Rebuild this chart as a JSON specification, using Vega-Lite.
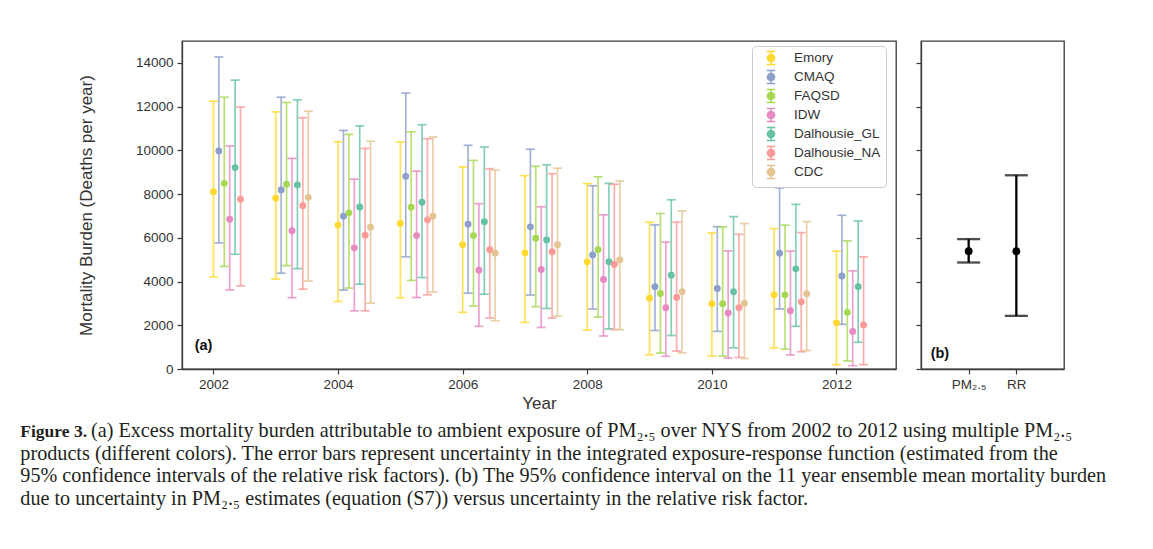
{
  "$schema": "https://vega.github.io/schema/vega-lite/v6.json",
  "background": "white",
  "padding": {"left": 20, "top": 40, "right": 0, "bottom": 0},
  "spacing": 17,
  "title": {
    "text": "Figure 3.",
    "subtitle": [
      "\u200b\u00a0\u00a0\u00a0\u00a0\u00a0\u00a0\u00a0\u00a0\u00a0\u00a0\u00a0\u00a0\u00a0\u00a0(a) Excess mortality burden attributable to ambient exposure of PM₂.₅ over NYS from 2002 to 2012 using multiple PM₂.₅",
      "products (different colors). The error bars represent uncertainty in the integrated exposure-response function (estimated from the",
      "95% confidence intervals of the relative risk factors). (b) The 95% confidence interval on the 11 year ensemble mean mortality burden",
      "due to uncertainty in PM₂.₅ estimates (equation (S7)) versus uncertainty in the relative risk factor."
    ],
    "orient": "bottom",
    "anchor": "start",
    "frame": "bounds",
    "dx": -57,
    "offset": 11,
    "font": "Liberation Serif",
    "fontSize": 17.5,
    "fontWeight": "bold",
    "color": "#231f20",
    "lineHeight": 17.5,
    "subtitleFont": "Liberation Serif",
    "subtitleFontSize": 20.2,
    "subtitleFontWeight": "normal",
    "subtitleColor": "#231f20",
    "subtitleLineHeight": 22.6,
    "subtitlePadding": -19.6
  },
  "config": {
    "view": {"stroke": "#3a3a3a", "strokeWidth": 1.3},
    "axis": {
      "grid": false,
      "domainColor": "#3a3a3a",
      "domainWidth": 1.3,
      "tickColor": "#3a3a3a",
      "tickSize": 5,
      "tickWidth": 1.2,
      "labelFont": "Liberation Sans",
      "labelFontSize": 13.5,
      "labelColor": "#333333",
      "titleFont": "Liberation Sans",
      "titleFontSize": 17,
      "titleFontWeight": "normal",
      "titleColor": "#333333"
    }
  },
  "datasets": {
    "burden": [
      {"year": 2002, "product": "Emory", "lo": 4210, "mid": 8110, "hi": 12250},
      {"year": 2002, "product": "CMAQ", "lo": 5770, "mid": 9970, "hi": 14270},
      {"year": 2002, "product": "FAQSD", "lo": 4690, "mid": 8490, "hi": 12430},
      {"year": 2002, "product": "IDW", "lo": 3620, "mid": 6850, "hi": 10200},
      {"year": 2002, "product": "Dalhousie_GL", "lo": 5250, "mid": 9210, "hi": 13210},
      {"year": 2002, "product": "Dalhousie_NA", "lo": 3800, "mid": 7760, "hi": 11980},
      {"year": 2003, "product": "Emory", "lo": 4110, "mid": 7810, "hi": 11760},
      {"year": 2003, "product": "CMAQ", "lo": 4380, "mid": 8190, "hi": 12430},
      {"year": 2003, "product": "FAQSD", "lo": 4730, "mid": 8450, "hi": 12190},
      {"year": 2003, "product": "IDW", "lo": 3260, "mid": 6320, "hi": 9630},
      {"year": 2003, "product": "Dalhousie_GL", "lo": 4590, "mid": 8420, "hi": 12310},
      {"year": 2003, "product": "Dalhousie_NA", "lo": 3650, "mid": 7470, "hi": 11490},
      {"year": 2003, "product": "CDC", "lo": 4020, "mid": 7850, "hi": 11790},
      {"year": 2004, "product": "Emory", "lo": 3090, "mid": 6580, "hi": 10390},
      {"year": 2004, "product": "CMAQ", "lo": 3610, "mid": 6990, "hi": 10910},
      {"year": 2004, "product": "FAQSD", "lo": 3700, "mid": 7140, "hi": 10730},
      {"year": 2004, "product": "IDW", "lo": 2660, "mid": 5540, "hi": 8680},
      {"year": 2004, "product": "Dalhousie_GL", "lo": 3880, "mid": 7410, "hi": 11120},
      {"year": 2004, "product": "Dalhousie_NA", "lo": 2660, "mid": 6120, "hi": 10090},
      {"year": 2004, "product": "CDC", "lo": 3010, "mid": 6480, "hi": 10410},
      {"year": 2005, "product": "Emory", "lo": 3260, "mid": 6650, "hi": 10380},
      {"year": 2005, "product": "CMAQ", "lo": 5130, "mid": 8810, "hi": 12620},
      {"year": 2005, "product": "FAQSD", "lo": 4050, "mid": 7400, "hi": 10850},
      {"year": 2005, "product": "IDW", "lo": 3270, "mid": 6100, "hi": 9050},
      {"year": 2005, "product": "Dalhousie_GL", "lo": 4180, "mid": 7630, "hi": 11170},
      {"year": 2005, "product": "Dalhousie_NA", "lo": 3390, "mid": 6820, "hi": 10530},
      {"year": 2005, "product": "CDC", "lo": 3520, "mid": 6990, "hi": 10610},
      {"year": 2006, "product": "Emory", "lo": 2590, "mid": 5680, "hi": 9240},
      {"year": 2006, "product": "CMAQ", "lo": 3470, "mid": 6620, "hi": 10230},
      {"year": 2006, "product": "FAQSD", "lo": 2880, "mid": 6100, "hi": 9540},
      {"year": 2006, "product": "IDW", "lo": 1950, "mid": 4520, "hi": 7560},
      {"year": 2006, "product": "Dalhousie_GL", "lo": 3420, "mid": 6730, "hi": 10150},
      {"year": 2006, "product": "Dalhousie_NA", "lo": 2330, "mid": 5450, "hi": 9160},
      {"year": 2006, "product": "CDC", "lo": 2210, "mid": 5300, "hi": 9090},
      {"year": 2007, "product": "Emory", "lo": 2130, "mid": 5310, "hi": 8840},
      {"year": 2007, "product": "CMAQ", "lo": 3380, "mid": 6500, "hi": 10050},
      {"year": 2007, "product": "FAQSD", "lo": 2850, "mid": 5980, "hi": 9270},
      {"year": 2007, "product": "IDW", "lo": 1900, "mid": 4550, "hi": 7420},
      {"year": 2007, "product": "Dalhousie_GL", "lo": 2770, "mid": 5900, "hi": 9340},
      {"year": 2007, "product": "Dalhousie_NA", "lo": 2330, "mid": 5360, "hi": 8930},
      {"year": 2007, "product": "CDC", "lo": 2420, "mid": 5680, "hi": 9180},
      {"year": 2008, "product": "Emory", "lo": 1780, "mid": 4900, "hi": 8480},
      {"year": 2008, "product": "CMAQ", "lo": 2740, "mid": 5210, "hi": 8380},
      {"year": 2008, "product": "FAQSD", "lo": 2370, "mid": 5460, "hi": 8790},
      {"year": 2008, "product": "IDW", "lo": 1510, "mid": 4090, "hi": 7050},
      {"year": 2008, "product": "Dalhousie_GL", "lo": 1830, "mid": 4910, "hi": 8490},
      {"year": 2008, "product": "Dalhousie_NA", "lo": 1800, "mid": 4780, "hi": 8450},
      {"year": 2008, "product": "CDC", "lo": 1800, "mid": 4990, "hi": 8600},
      {"year": 2009, "product": "Emory", "lo": 650, "mid": 3240, "hi": 6710},
      {"year": 2009, "product": "CMAQ", "lo": 1760, "mid": 3760, "hi": 6590},
      {"year": 2009, "product": "FAQSD", "lo": 730, "mid": 3450, "hi": 7110},
      {"year": 2009, "product": "IDW", "lo": 580, "mid": 2800, "hi": 5800},
      {"year": 2009, "product": "Dalhousie_GL", "lo": 1530, "mid": 4290, "hi": 7740},
      {"year": 2009, "product": "Dalhousie_NA", "lo": 820, "mid": 3270, "hi": 6710},
      {"year": 2009, "product": "CDC", "lo": 740, "mid": 3530, "hi": 7230},
      {"year": 2010, "product": "Emory", "lo": 590, "mid": 2980, "hi": 6220},
      {"year": 2010, "product": "CMAQ", "lo": 1720, "mid": 3680, "hi": 6510},
      {"year": 2010, "product": "FAQSD", "lo": 590, "mid": 2980, "hi": 6500},
      {"year": 2010, "product": "IDW", "lo": 500, "mid": 2560, "hi": 5400},
      {"year": 2010, "product": "Dalhousie_GL", "lo": 970, "mid": 3530, "hi": 6970},
      {"year": 2010, "product": "Dalhousie_NA", "lo": 530, "mid": 2800, "hi": 6160},
      {"year": 2010, "product": "CDC", "lo": 480, "mid": 3010, "hi": 6650},
      {"year": 2011, "product": "Emory", "lo": 960, "mid": 3390, "hi": 6420},
      {"year": 2011, "product": "CMAQ", "lo": 2750, "mid": 5300, "hi": 8280},
      {"year": 2011, "product": "FAQSD", "lo": 910, "mid": 3390, "hi": 6580},
      {"year": 2011, "product": "IDW", "lo": 640, "mid": 2660, "hi": 5390},
      {"year": 2011, "product": "Dalhousie_GL", "lo": 1950, "mid": 4580, "hi": 7530},
      {"year": 2011, "product": "Dalhousie_NA", "lo": 790, "mid": 3070, "hi": 6240},
      {"year": 2011, "product": "CDC", "lo": 840, "mid": 3440, "hi": 6740},
      {"year": 2012, "product": "Emory", "lo": 200, "mid": 2110, "hi": 5390},
      {"year": 2012, "product": "CMAQ", "lo": 2040, "mid": 4250, "hi": 7030},
      {"year": 2012, "product": "FAQSD", "lo": 370, "mid": 2590, "hi": 5860},
      {"year": 2012, "product": "IDW", "lo": 150, "mid": 1720, "hi": 4490},
      {"year": 2012, "product": "Dalhousie_GL", "lo": 1220, "mid": 3760, "hi": 6770},
      {"year": 2012, "product": "Dalhousie_NA", "lo": 200, "mid": 2010, "hi": 5130}
    ],
    "ensemble": [
      {"source": "PM₂.₅", "lo": 4870, "mid": 5390, "hi": 5940},
      {"source": "RR", "lo": 2430, "mid": 5390, "hi": 8860}
    ]
  },
  "hconcat": [
    {
      "width": 714,
      "height": 328,
      "layer": [
        {
          "data": {"name": "burden"},
          "encoding": {
            "x": {
              "field": "year",
              "type": "ordinal",
              "scale": {"type": "band", "paddingInner": 0.478, "paddingOuter": 0.469, "align": 0.538},
              "axis": {"values": [2002, 2004, 2006, 2008, 2010, 2012], "tickOffset": -16.25, "labelAngle": 0, "title": "Year", "labelPadding": 3, "titlePadding": 5}
            },
            "xOffset": {
              "field": "product",
              "type": "nominal",
              "scale": {"type": "point", "padding": 0, "domain": ["Emory", "CMAQ", "FAQSD", "IDW", "Dalhousie_GL", "Dalhousie_NA", "CDC"]}
            },
            "color": {
              "field": "product",
              "type": "nominal",
              "scale": {
                "domain": ["Emory", "CMAQ", "FAQSD", "IDW", "Dalhousie_GL", "Dalhousie_NA", "CDC"],
                "range": ["#ffd92f", "#8da0cb", "#a6d854", "#e78ac3", "#66c2a5", "#fb9a99", "#e5c494"]
              },
              "legend": {
                "title": null,
                "orient": "none",
                "legendX": 570,
                "legendY": 5,
                "padding": 5,
                "strokeColor": "#cccccc",
                "cornerRadius": 4,
                "fillColor": "rgba(255,255,255,0.85)",
                "labelFont": "Liberation Sans",
                "labelFontSize": 13.5,
                "labelColor": "#333333",
                "labelExpr": "datum.label + '\u00a0\u00a0\u00a0'",
                "symbolType": "M-0.7,-1.1H0.7M0,-1.1V1.1M-0.7,1.1H0.7M0.6,0A0.6,0.6,0,1,1,-0.6,0A0.6,0.6,0,1,1,0.6,0Z",
                "symbolSize": 144,
                "symbolStrokeWidth": 1.5,
                "symbolOpacity": 1,
                "rowPadding": -1,
                "symbolOffset": 7,
                "labelOffset": 16,
                "encode": {
                  "symbols": {"update": {"stroke": {"scale": "color", "field": "value"}, "strokeWidth": {"value": 1.5}}}
                }
              }
            }
          },
          "layer": [
            {
              "mark": {"type": "rule", "strokeWidth": 1.7, "opacity": 0.8},
              "encoding": {
                "y": {
                  "field": "lo",
                  "type": "quantitative",
                  "scale": {"domain": [0, 15000], "nice": false},
                  "axis": {"values": [0, 2000, 4000, 6000, 8000, 10000, 12000, 14000], "format": "d", "title": "Mortality Burden (Deaths per year)", "labelPadding": 4, "titlePadding": 39.5}
                },
                "y2": {"field": "hi"}
              }
            },
            {
              "mark": {"type": "tick", "orient": "horizontal", "size": 9, "thickness": 1.7, "opacity": 0.8},
              "encoding": {"y": {"field": "lo", "type": "quantitative"}}
            },
            {
              "mark": {"type": "tick", "orient": "horizontal", "size": 9, "thickness": 1.7, "opacity": 0.8},
              "encoding": {"y": {"field": "hi", "type": "quantitative"}}
            },
            {
              "mark": {"type": "point", "filled": true, "size": 48, "opacity": 1},
              "encoding": {"y": {"field": "mid", "type": "quantitative"}}
            }
          ]
        },
        {
          "data": {"values": [{}]},
          "mark": {"type": "text", "text": "(a)", "font": "Liberation Sans", "fontWeight": "bold", "fontSize": 14.5, "color": "#111111", "align": "left", "baseline": "alphabetic", "dx": -35, "dy": -19},
          "encoding": {"x": {"datum": 2002, "type": "ordinal"}, "y": {"datum": 0, "type": "quantitative"}}
        }
      ]
    },
    {
      "width": 143,
      "height": 328,
      "layer": [
        {
          "data": {"name": "ensemble"},
          "encoding": {
            "x": {
              "field": "source",
              "type": "nominal",
              "sort": null,
              "scale": {"type": "point", "padding": 1, "domain": ["PM₂.₅", "RR"]},
              "axis": {"title": null, "labelAngle": 0, "labelPadding": 3}
            }
          },
          "layer": [
            {
              "mark": {"type": "rule", "strokeWidth": 2.3, "color": "#000000"},
              "encoding": {
                "y": {
                  "field": "lo",
                  "type": "quantitative",
                  "scale": {"domain": [0, 15000], "nice": false},
                  "axis": {"values": [0, 2000, 4000, 6000, 8000, 10000, 12000, 14000], "labels": false, "title": null}
                },
                "y2": {"field": "hi"}
              }
            },
            {
              "mark": {"type": "tick", "orient": "horizontal", "size": 23, "thickness": 2.3, "color": "#000000"},
              "encoding": {"y": {"field": "lo", "type": "quantitative"}}
            },
            {
              "mark": {"type": "tick", "orient": "horizontal", "size": 23, "thickness": 2.3, "color": "#000000"},
              "encoding": {"y": {"field": "hi", "type": "quantitative"}}
            },
            {
              "mark": {"type": "point", "filled": true, "size": 60, "color": "#000000", "opacity": 1},
              "encoding": {"y": {"field": "mid", "type": "quantitative"}}
            }
          ]
        },
        {
          "data": {"values": [{}]},
          "mark": {"type": "text", "text": "(b)", "font": "Liberation Sans", "fontWeight": "bold", "fontSize": 14.5, "color": "#111111", "align": "left", "baseline": "alphabetic", "dx": -38, "dy": -11},
          "encoding": {"x": {"datum": "PM₂.₅", "type": "nominal"}, "y": {"datum": 0, "type": "quantitative"}}
        }
      ]
    }
  ]
}
